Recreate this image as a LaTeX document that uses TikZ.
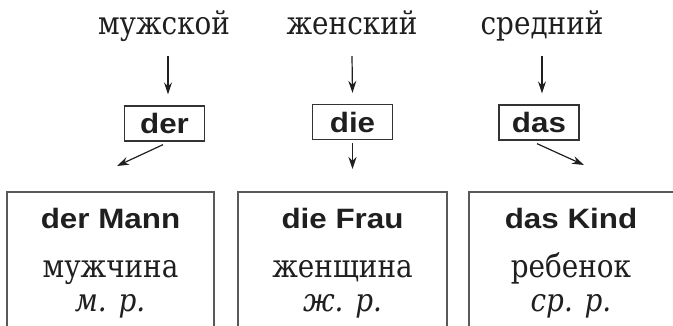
\documentclass[tikz,border=0pt]{standalone}
\usepackage{fontspec}
\setmainfont{DejaVu Serif}[FakeStretch=0.87]
\newfontfamily\boldsans[FakeStretch=1.12]{Liberation Sans Bold}
\usetikzlibrary{arrows.meta}
\begin{document}
\begin{tikzpicture}[x=1pt,y=-1pt,
  lab/.style={font=\fontsize{32}{34}\selectfont, text=black!88, inner sep=0pt, anchor=base},
  art/.style={font=\boldsans\fontsize{28}{30}\selectfont, text=black!88, draw=black!80, line width=1.3pt, minimum width=80pt, minimum height=35pt, inner sep=0pt},
  word/.style={font=\boldsans\fontsize{28}{30}\selectfont, text=black!88, inner sep=0pt, anchor=base},
  ru/.style={font=\fontsize{32}{34}\selectfont, text=black!88, inner sep=0pt, anchor=base},
  rui/.style={font=\itshape\fontsize{32}{34}\selectfont, text=black!88, inner sep=0pt, anchor=base},
  arr/.style={-{Stealth[length=12pt,width=8pt]}, line width=1.2pt, draw=black!88},
  frame/.style={draw=black!65, line width=1.4pt}
]
\useasboundingbox (0,0) rectangle (673,325);
% top labels
\node[lab] (l1) at (164,34) {мужской};
\node[lab] (l2) at (352,34) {женский};
\node[lab] (l3) at (542,34) {средний};
% article boxes
\node[art] (a1) at (164.5,123.5) {der};
\node[art] (a2) at (352.5,122) {die};
\node[art] (a3) at (539,122.5) {das};
% top arrows
\draw[arr] ([xshift=4pt,yshift=-22pt]l1.base) -- ([xshift=3.5pt,yshift=11pt]a1.north);
\draw[arr] ([yshift=-22pt]l2.base) -- ([yshift=11pt]a2.north);
\draw[arr] ([yshift=-22pt]l3.base) -- ([xshift=3pt,yshift=11pt]a3.north);
% bottom arrows
\coordinate (e1) at (117,166);
\coordinate (e2) at (352.5,169);
\coordinate (e3) at (584,165);
\draw[arr] ([xshift=-1.5pt,yshift=-3pt]a1.south) -- (e1);
\draw[arr] ([yshift=-3pt]a2.south) -- (e2);
\draw[arr] ([xshift=-2pt,yshift=-3pt]a3.south) -- (e3);
% frames (open at bottom)
\draw[frame] (7,326) -- (7,192) -- (214,192) -- (214,326);
\draw[frame] (238,326) -- (238,192) -- (447,192) -- (447,326);
\draw[frame] (469,326) -- (469,192) -- (680,192);
% frame texts
\node[word] (w1) at (110.5,228) {der Mann};
\node[word] (w2) at (342.5,228) {die Frau};
\node[word] (w3) at (571,228) {das Kind};
\node[ru] (r1) at (110.5,277) {мужчина};
\node[ru] (r2) at (342.5,277) {женщина};
\node[ru] (r3) at (571,277) {ребенок};
\node[rui] (g1) at (110,311) {м. р.};
\node[rui] (g2) at (342.5,311) {ж. р.};
\node[rui] (g3) at (571,311) {ср. р.};
\end{tikzpicture}
\end{document}
